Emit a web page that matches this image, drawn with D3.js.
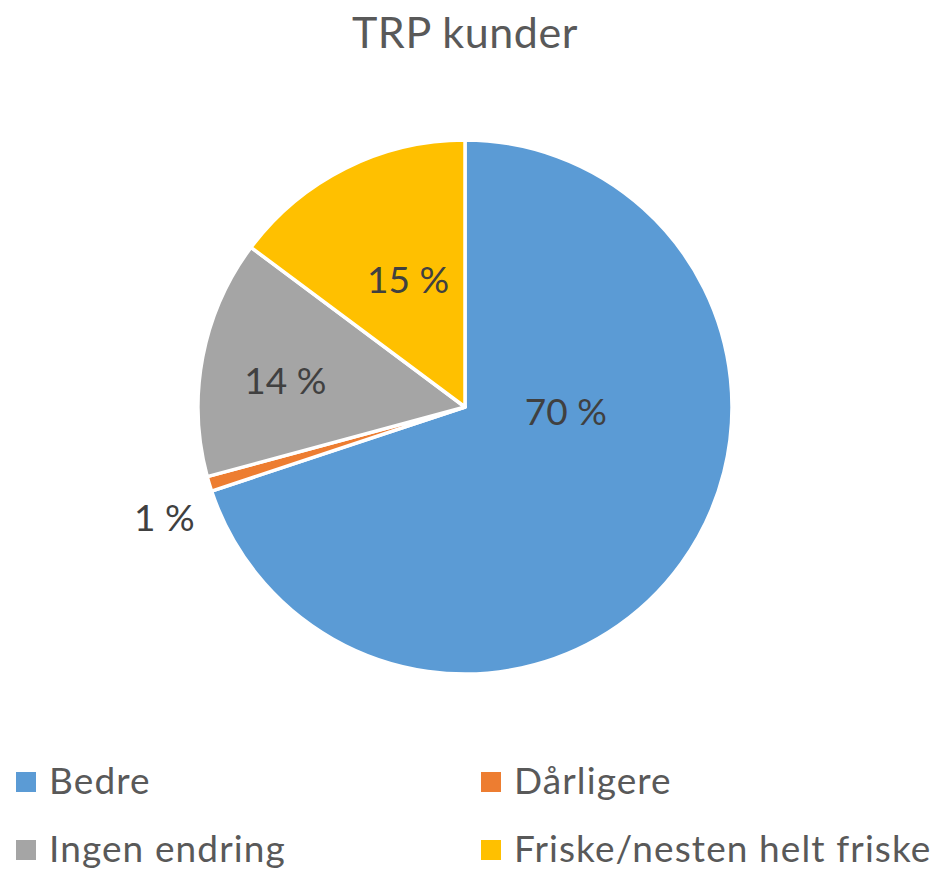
<!DOCTYPE html>
<html>
<head>
<meta charset="utf-8">
<script src="https://cdn.jsdelivr.net/npm/d3@7"></script>
<style>
  body { margin: 0; background: #fff; }
  text { font-family: Lato, "Open Sans", sans-serif; }
</style>
</head>
<body>
<div id="chart"></div>
<script>
// data
var categories = ["Bedre", "Dårligere", "Ingen endring", "Friske/nesten helt friske"]
var values = [69.9, 0.9, 14.4, 14.8]
var labels = ["70 %", "1 %", "14 %", "15 %"]
var colors = ["#5B9BD5", "#ED7D31", "#A5A5A5", "#FFC000"]

// where excel put each data label (angle in degrees clockwise from 12, radius as share of R)
var labelAngle = [92.8, 249.8, 278.2, 336]
var labelRadius = [0.378, 1.2, 0.68, 0.524]

var width = 936, height = 869
var cx = 465, cy = 407, R = 267

var svg = d3.select("#chart").append("svg")
  .attr("width", width)
  .attr("height", height)

svg.append("text")
  .attr("x", cx)
  .attr("y", 48)
  .attr("text-anchor", "middle")
  .attr("font-size", 43)
  .attr("letter-spacing", 0.6)
  .attr("fill", "#595959")
  .text("TRP kunder")

var pie = d3.pie().sort(null).value(function(d) { return d })
var arc = d3.arc().innerRadius(0).outerRadius(R)

var g = svg.append("g")
  .attr("transform", "translate(" + cx + "," + cy + ")")

g.selectAll("path.slice")
  .data(pie(values))
  .enter().append("path")
  .attr("class", "slice")
  .attr("d", arc)
  .attr("fill", function(d, i) { return colors[i] })
  .attr("stroke", "#fff")
  .attr("stroke-width", 3.5)
  .attr("stroke-linejoin", "round")

g.selectAll("text.lbl")
  .data(labels)
  .enter().append("text")
  .attr("class", "lbl")
  .attr("x", function(d, i) { return Math.sin(labelAngle[i] * Math.PI / 180) * labelRadius[i] * R })
  .attr("y", function(d, i) { return -Math.cos(labelAngle[i] * Math.PI / 180) * labelRadius[i] * R })
  .attr("dy", "0.36em")
  .attr("text-anchor", "middle")
  .attr("font-size", 37)
  .attr("fill", "#404040")
  .text(function(d) { return d })

// legend, two columns
var legendX = d3.scalePoint().domain([0, 1]).range([16, 481])
var legendY = d3.scalePoint().domain([0, 1]).range([782, 850])

var item = svg.selectAll("g.legend")
  .data(categories)
  .enter().append("g")
  .attr("class", "legend")
  .attr("transform", function(d, i) {
    return "translate(" + legendX(i % 2) + "," + legendY(Math.floor(i / 2)) + ")"
  })

item.append("rect")
  .attr("x", 0)
  .attr("y", -10)
  .attr("width", 20)
  .attr("height", 20)
  .attr("fill", function(d, i) { return colors[i] })

item.append("text")
  .attr("x", 33)
  .attr("y", 12)
  .attr("font-size", 37)
  .attr("letter-spacing", 1.1)
  .attr("fill", "#595959")
  .text(function(d) { return d })
</script>
</body>
</html>
